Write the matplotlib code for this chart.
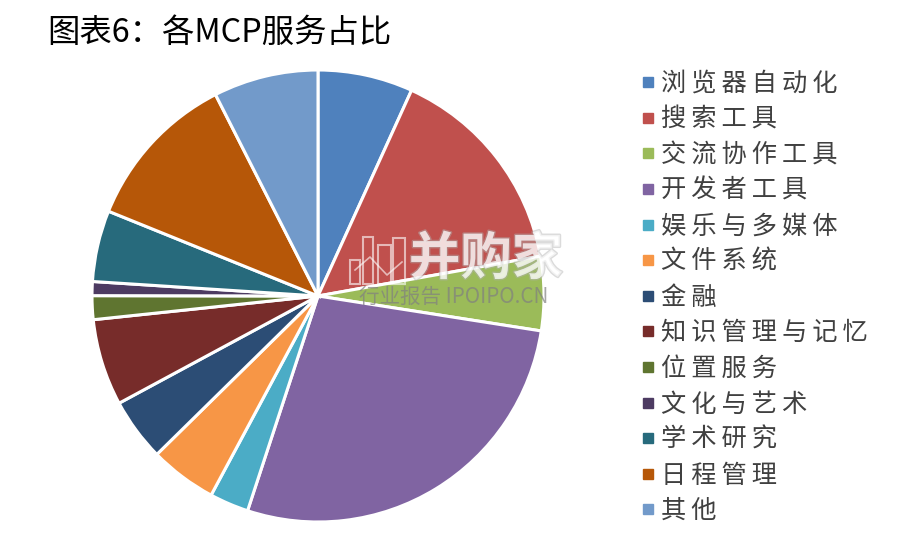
import matplotlib
matplotlib.use('Agg')
import matplotlib.pyplot as plt
import matplotlib.patheffects as pe
from matplotlib.lines import Line2D
from matplotlib.patches import Rectangle

plt.rcParams['font.family'] = ['Noto Sans CJK SC', 'DejaVu Sans']

categorias = ['浏览器自动化', '搜索工具', '交流协作工具', '开发者工具', '娱乐与多媒体',
              '文件系统', '金融', '知识管理与记忆', '位置服务', '文化与艺术',
              '学术研究', '日程管理', '其他']
valores = [6.8, 15.4, 5.3, 27.6, 2.8, 4.8, 4.5, 6.2, 1.7, 1.0, 5.1, 11.4, 7.5]
colores = ['#4F81BD', '#C0504D', '#9BBB59', '#8064A2', '#4BACC6', '#F79646', '#2C4D75',
           '#772C2A', '#5F7530', '#4D3B62', '#276A7C', '#B65708', '#729ACA']

W, H = 909, 539
fig = plt.figure(figsize=(W / 100, H / 100), dpi=100)

# centro (318, 296), radio 226 px
ax = fig.add_axes([92 / W, (H - 522) / H, 452 / W, 452 / H])
ax.pie(valores, colors=colores, startangle=90, counterclock=False, radius=1,
       wedgeprops={'edgecolor': 'white', 'linewidth': 2.2, 'clip_on': False})
ax.set_xlim(-1, 1)
ax.set_ylim(-1, 1)

fig.text(47 / W, 1 - 33 / H, '图表6：各MCP服务占比', fontsize=23.3, color='black', va='center')

# leyenda con marcadores cuadrados y texto espaciado
handles = [Line2D([], [], linestyle='none', marker='s', markersize=7, color=c) for c in colores]
etiquetas = ['\u2009'.join(c) for c in categorias]
fig.legend(handles, etiquetas, loc='upper left', bbox_to_anchor=(636 / W, 1 - 71 / H),
           frameon=False, fontsize=18.2, labelcolor='#404040', handlelength=0.97,
           handletextpad=0.0, labelspacing=0.38, borderpad=0, borderaxespad=0)

# marca de agua
sombra = [pe.withStroke(linewidth=2, foreground='#b0b0b0', alpha=0.45)]
fig.text(486 / W, 1 - 259 / H, '并购家', fontsize=37, fontweight='bold', color='white',
         alpha=0.65, ha='center', va='center', path_effects=sombra)
fig.text(454 / W, 1 - 297 / H, '行业报告 IPOIPO.CN', fontsize=14.8, color='#808080',
         alpha=0.7, ha='center', va='center')
for x0, ancho, y0 in [(350, 10, 260), (363, 10, 237), (378, 13, 245), (393, 12, 238)]:
    fig.add_artist(Rectangle((x0 / W, 1 - 284 / H), ancho / W, (284 - y0) / H, transform=fig.transFigure,
                             fill=False, edgecolor='white', alpha=0.6, linewidth=1.5))
fig.add_artist(Line2D([355 / W, 370 / W, 387 / W, 402 / W],
                      [1 - 270 / H, 1 - 257 / H, 1 - 275 / H, 1 - 262 / H],
                      transform=fig.transFigure, color='white', alpha=0.6, linewidth=1.2))

plt.savefig('out.png', dpi=100)
